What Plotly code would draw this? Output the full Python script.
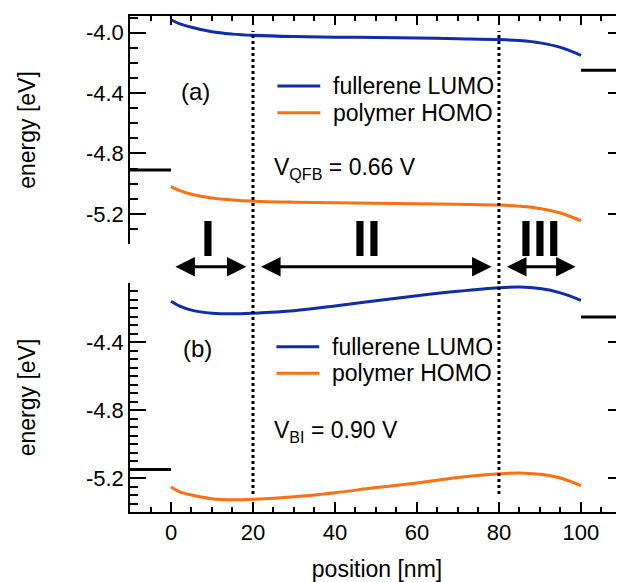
import plotly.graph_objects as go

# ---------------- data ----------------
pos = [0, 2, 5, 10, 15, 20, 30, 40, 50, 60, 70, 80, 85, 90, 95, 100]

lumo_a = [-3.915, -3.94, -3.965, -3.995, -4.01, -4.018, -4.026, -4.03, -4.032,
          -4.035, -4.04, -4.046, -4.053, -4.068, -4.098, -4.15]
homo_a = [-5.02, -5.045, -5.07, -5.095, -5.108, -5.116, -5.123, -5.127, -5.13,
          -5.133, -5.137, -5.142, -5.15, -5.165, -5.195, -5.246]

lumo_b = [-4.158, -4.185, -4.21, -4.228, -4.232, -4.228, -4.213, -4.185, -4.154,
          -4.125, -4.099, -4.078, -4.074, -4.083, -4.108, -4.152]
homo_b = [-5.253, -5.28, -5.30, -5.322, -5.328, -5.325, -5.31, -5.286, -5.256,
          -5.229, -5.197, -5.175, -5.17, -5.178, -5.2, -5.245]

electrode_left_x = [-10, 0]
electrode_right_x = [100, 110]
elec_a = [-4.91, -4.25]   # left, right contact levels (a)
elec_b = [-5.15, -4.25]   # left, right contact levels (b)

region_bounds = [20, 80]
region_arrows = [(0.7, 18.4), (21.6, 78.2), (81.6, 98.7)]
region_labels = ["I", "II", "III"]
region_label_x = [9.0, 47.9, 90.0]

x_range = [-10, 110.5]
ya_range = [-5.4, -3.89]
yb_range = [-5.4, -4.05]
ya_ticks = [-5.2, -4.8, -4.4, -4.0]
yb_ticks = [-5.2, -4.8, -4.4]
ya_ticktext = ["-5.2", "-4.8", "-4.4", "-4.0"]
yb_ticktext = ["-5.2", "-4.8", "-4.4"]

legend_names = ["fullerene LUMO", "polymer HOMO"]

BLUE = "#0f2daa"
ORANGE = "#ff6f12"
FONT = "Liberation Sans, Arial, sans-serif"
NUMERAL_FONT = "Liberation Sans Narrow, Arial Narrow, Liberation Sans, sans-serif"

# ---------------- geometry ----------------
OFF = 8                      # page body margin
W, H = 618, 574
ML, MR, MT, MB = 122, 0, 8, 70
pw = W - ML - MR
ph = H - MT - MB


def px(xpage):
    return (xpage - OFF - ML) / pw


def py(ypage):
    return (H - MB - (ypage - OFF)) / ph


fig = go.Figure()

# top panel (a)
fig.add_trace(go.Scatter(x=pos, y=lumo_a, mode="lines", line=dict(color=BLUE, width=3, shape="spline"),
                         name=legend_names[0], xaxis="x2", yaxis="y", showlegend=False))
fig.add_trace(go.Scatter(x=pos, y=homo_a, mode="lines", line=dict(color=ORANGE, width=3, shape="spline"),
                         name=legend_names[1], xaxis="x2", yaxis="y", showlegend=False))
fig.add_trace(go.Scatter(x=electrode_left_x, y=[elec_a[0]] * 2, mode="lines", line=dict(color="black", width=3),
                         showlegend=False, xaxis="x2", yaxis="y"))
fig.add_trace(go.Scatter(x=electrode_right_x, y=[elec_a[1]] * 2, mode="lines", line=dict(color="black", width=3),
                         showlegend=False, xaxis="x2", yaxis="y"))

# bottom panel (b)
fig.add_trace(go.Scatter(x=pos, y=lumo_b, mode="lines", line=dict(color=BLUE, width=3, shape="spline"),
                         name=legend_names[0], xaxis="x", yaxis="y2", showlegend=False))
fig.add_trace(go.Scatter(x=pos, y=homo_b, mode="lines", line=dict(color=ORANGE, width=3, shape="spline"),
                         name=legend_names[1], xaxis="x", yaxis="y2", showlegend=False))
fig.add_trace(go.Scatter(x=electrode_left_x, y=[elec_b[0]] * 2, mode="lines", line=dict(color="black", width=3),
                         showlegend=False, xaxis="x", yaxis="y2"))
fig.add_trace(go.Scatter(x=electrode_right_x, y=[elec_b[1]] * 2, mode="lines", line=dict(color="black", width=3),
                         showlegend=False, xaxis="x", yaxis="y2"))

# legends (one per panel)
for (x0, x1, xt, ys) in [(278, 321, 331.5, (86, 112.7)), (277, 320, 331, (346.7, 373.3))]:
    for name, col, yy in zip(legend_names, [BLUE, ORANGE], ys):
        fig.add_shape(type="line", xref="paper", yref="paper", x0=px(x0), x1=px(x1), y0=py(yy), y1=py(yy),
                      line=dict(color=col, width=3))
        fig.add_annotation(x=px(xt), y=py(yy), xref="paper", yref="paper", text=name, showarrow=False,
                           xanchor="left", yanchor="middle", font=dict(family=FONT, size=23, color="black"))

# dotted region boundaries spanning both panels
for xb in region_bounds:
    fig.add_shape(type="line", xref="x", yref="paper", x0=xb, x1=xb, y0=py(494), y1=py(31),
                  line=dict(color="black", width=3, dash="dot"))

# double-headed arrows
for (xa, xe) in region_arrows:
    fig.add_annotation(x=xe, y=py(266.7), xref="x", yref="paper", ax=xa, ay=0, axref="x", ayref="pixel",
                       text="", showarrow=True, arrowhead=2, startarrowhead=2, arrowside="end+start",
                       arrowsize=1.3, startarrowsize=1.3, arrowwidth=3, arrowcolor="black",
                       standoff=0, startstandoff=0)

for lab, xl in zip(region_labels, region_label_x):
    fig.add_annotation(x=xl, y=py(239), xref="x", yref="paper", text="<b>" + lab + "</b>", showarrow=False,
                       font=dict(family=NUMERAL_FONT, size=50, color="black"), xanchor="center", yanchor="middle")

# panel letters and voltage labels
fig.add_annotation(x=px(195.5), y=py(91), xref="paper", yref="paper", text="(a)", showarrow=False,
                   xanchor="center", yanchor="middle", font=dict(family=FONT, size=24, color="black"))
fig.add_annotation(x=px(198), y=py(348.5), xref="paper", yref="paper", text="(b)", showarrow=False,
                   xanchor="center", yanchor="middle", font=dict(family=FONT, size=24, color="black"))
fig.add_annotation(x=px(273), y=py(168.5), xref="paper", yref="paper", text="V<sub>QFB</sub> = 0.66 V",
                   showarrow=False, xanchor="left", yanchor="middle", font=dict(family=FONT, size=23, color="black"))
fig.add_annotation(x=px(273), y=py(431), xref="paper", yref="paper", text="V<sub>BI</sub> = 0.90 V",
                   showarrow=False, xanchor="left", yanchor="middle", font=dict(family=FONT, size=23, color="black"))

axis_common = dict(showline=True, linecolor="black", linewidth=1.5, tickcolor="black", tickwidth=1.5,
                   showgrid=False, zeroline=False, ticks="inside")

fig.update_layout(
    width=W, height=H,
    margin=dict(l=ML, r=MR, t=MT, b=MB),
    paper_bgcolor="white", plot_bgcolor="white",
    font=dict(family=FONT, size=22, color="black"),
    showlegend=False,
    xaxis=dict(**axis_common, range=x_range, anchor="y2", side="bottom", tick0=0, dtick=20, ticklen=10,
               minor=dict(dtick=5, tick0=0, ticklen=5, ticks="inside", tickcolor="black", tickwidth=1.5),
               title=dict(text="position [nm]", font=dict(size=23), standoff=18),
               tickfont=dict(size=22)),
    xaxis2=dict(**axis_common, range=x_range, anchor="y", side="top", tick0=0, dtick=20, ticklen=9,
                showticklabels=False,
                minor=dict(dtick=5, tick0=0, ticklen=5, ticks="inside", tickcolor="black", tickwidth=1.5)),
    yaxis=dict(**axis_common, range=ya_range, domain=[py(244), 1], anchor="x2", mirror="ticks",
               tickmode="array", tickvals=ya_ticks, ticktext=ya_ticktext, ticklen=16,
               minor=dict(tickmode="linear", dtick=0.1, tick0=-4.0, ticklen=8, ticks="inside",
                          tickcolor="black", tickwidth=1.5),
               title=dict(text="energy [eV]", font=dict(size=23), standoff=44), tickfont=dict(size=22)),
    yaxis2=dict(**axis_common, range=yb_range, domain=[0, py(283)], anchor="x", mirror="ticks",
                tickmode="array", tickvals=yb_ticks, ticktext=yb_ticktext, ticklen=16,
                minor=dict(tickmode="linear", dtick=0.05, tick0=-4.4, ticklen=8, ticks="inside",
                           tickcolor="black", tickwidth=1.5),
                title=dict(text="energy [eV]", font=dict(size=23), standoff=44), tickfont=dict(size=22)),
)

fig.write_html("out.html")
